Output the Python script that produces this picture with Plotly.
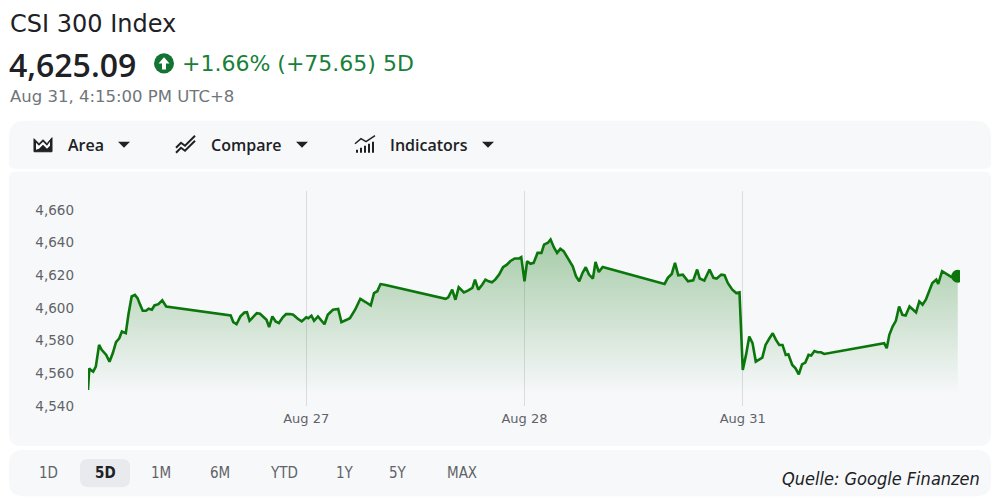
import plotly.graph_objects as go

# 5D intraday data, CSI 300 (minutes after the 9:30 open, index level)
days = ["Aug 26", "Aug 27", "Aug 28", "Aug 31"]

aug26_min = [0, 2, 4, 8, 12, 17, 21, 28, 33, 38, 43, 48, 52, 58, 62, 67, 72, 76, 80, 84,
             89, 93, 98, 102, 108, 114, 120, 217, 219, 223, 228, 234, 240, 244, 248, 253,
             259, 264, 269, 274, 278, 283, 288, 293, 299, 304, 310, 315, 322, 328]
aug26_val = [4549.7, 4563.0, 4562.0, 4561.0, 4564.0, 4577.3, 4574.3, 4571.2, 4567.0, 4572.2,
             4579.0, 4581.4, 4585.5, 4584.5, 4595.8, 4607.0, 4608.0, 4606.0, 4602.0, 4598.3,
             4598.3, 4599.5, 4598.9, 4601.5, 4602.3, 4604.6, 4600.9, 4595.4, 4595.4, 4591.3,
             4590.0, 4594.8, 4597.2, 4597.4, 4592.1, 4594.2, 4596.8, 4596.4, 4594.8, 4592.7,
             4588.2, 4594.8, 4591.7, 4590.7, 4594.2, 4596.2, 4596.2, 4595.8, 4593.3, 4591.7]

aug27_min = [0, 3, 8, 12, 18, 23, 28, 33, 41, 49, 54, 62, 67, 75, 83, 91, 99, 104, 109, 114,
             120, 214, 218, 224, 229, 234, 242, 248, 255, 259, 264, 270, 275, 280, 285, 290,
             296, 302, 308, 313, 320, 327, 330]
aug27_val = [4594.2, 4593.7, 4595.2, 4592.1, 4594.8, 4592.7, 4590.0, 4595.8, 4598.9, 4599.3,
             4591.3, 4592.7, 4593.7, 4598.9, 4605.6, 4603.6, 4601.5, 4609.1, 4610.2, 4614.6,
             4614.2, 4605.6, 4606.5, 4611.2, 4605.0, 4612.6, 4609.5, 4610.6, 4612.2, 4617.3,
             4611.2, 4614.2, 4617.3, 4616.3, 4615.7, 4617.3, 4620.4, 4624.9, 4626.5, 4628.6,
             4630.3, 4630.3, 4631.1]

aug28_min = [0, 4, 9, 14, 20, 26, 30, 36, 40, 45, 50, 55, 60, 66, 74, 79, 84, 89, 94, 99,
             105, 109, 114, 120, 215, 220, 226, 231, 236, 243, 251, 259, 265, 269, 276, 284,
             290, 295, 302, 307, 312, 319, 325, 330]
aug28_val = [4616.3, 4628.6, 4627.0, 4627.6, 4633.7, 4633.7, 4638.8, 4639.9, 4641.9, 4637.2,
             4633.7, 4636.2, 4634.8, 4630.7, 4625.5, 4619.4, 4616.3, 4621.4, 4624.9, 4620.4,
             4618.0, 4628.2, 4622.0, 4625.1, 4614.7, 4618.4, 4620.8, 4627.6, 4620.0, 4620.4,
             4616.3, 4616.9, 4623.5, 4618.0, 4616.7, 4623.5, 4618.4, 4618.0, 4620.4, 4620.0,
             4615.3, 4611.2, 4609.1, 4609.5]

aug31_min = [0, 5, 10, 15, 20, 30, 35, 41, 46, 51, 56, 61, 66, 70, 76, 81, 86, 91, 96, 101,
             105, 110, 115, 120, 125, 217, 221, 225, 230, 235, 240, 245, 250, 256, 261, 266,
             271, 276, 281, 286, 291, 297, 300, 306, 312, 320, 330]
aug31_val = [4562.0, 4571.2, 4582.5, 4578.4, 4567.1, 4569.5, 4577.3, 4581.4, 4584.5, 4580.4,
             4577.3, 4577.3, 4571.2, 4571.6, 4565.0, 4563.0, 4559.3, 4565.4, 4566.5, 4571.2,
             4570.8, 4573.6, 4572.8, 4572.8, 4571.8, 4578.4, 4575.3, 4583.5, 4588.6, 4592.1,
             4600.9, 4595.8, 4595.4, 4600.9, 4598.9, 4597.2, 4604.0, 4602.0, 4605.0, 4610.2,
             4615.3, 4617.3, 4614.7, 4622.5, 4620.8, 4619.0, 4619.4]

range_buttons = ["1D", "5D", "1M", "6M", "YTD", "1Y", "5Y", "MAX"]
toolbar_items = ["Area", "Compare", "Indicators"]

# one trading day on the axis (330 session minutes + a small gap)
DAY_SPAN = 335
session_min = [aug26_min, aug27_min, aug28_min, aug31_min]
session_val = [aug26_val, aug27_val, aug28_val, aug31_val]

xs, ys = [], []
for i, (mins, vals) in enumerate(zip(session_min, session_val)):
    xs += [i * DAY_SPAN + m for m in mins]
    ys += vals

# page offset of the figure (body margin) and the vertical squeeze of the snapshot
OX, OY = 8, 8
SY = 0.98
FW, FH = 984, 502

GREEN = "#0b760b"
GRAY = "#5f6368"
DARK = "#202124"
CARD = "#f7f8fa"
SANS = "DejaVu Sans, sans-serif"
NARROW = "Liberation Sans Narrow, DejaVu Sans Condensed, Roboto, sans-serif"


def fx(x):
    return (x - OX) / FW


def fy(y):
    return 1 - (y / SY - OY) / FH


def pt(x, y):
    return f"{fx(x):.5f},{fy(y):.5f}"


def rrect(x0, y0, x1, y1, tl, tr, br, bl):
    return (f"M{pt(x0 + tl, y0)} L{pt(x1 - tr, y0)} Q{pt(x1, y0)} {pt(x1, y0 + tr)} "
            f"L{pt(x1, y1 - br)} Q{pt(x1, y1)} {pt(x1 - br, y1)} L{pt(x0 + bl, y1)} "
            f"Q{pt(x0, y1)} {pt(x0, y1 - bl)} L{pt(x0, y0 + tl)} Q{pt(x0, y0)} {pt(x0 + tl, y0)} Z")


def poly(points):
    return "M" + " L".join(pt(x, y) for x, y in points) + " Z"


def line(points):
    return "M" + " L".join(pt(x, y) for x, y in points)


fig = go.Figure()

fig.add_trace(go.Scatter(
    x=xs, y=ys, mode="lines",
    line=dict(color=GREEN, width=2.6),
    fill="tozeroy",
    fillgradient=dict(type="vertical", start=4549, stop=4642,
                      colorscale=[[0, "rgba(11,118,11,0)"], [1, "rgba(11,118,11,0.34)"]]),
    hoverinfo="skip", showlegend=False))

fig.add_trace(go.Scatter(
    x=[xs[-1]], y=[ys[-1]], mode="markers",
    marker=dict(color=GREEN, size=13), showlegend=False, hoverinfo="skip"))

shapes = [
    dict(type="path", path=rrect(9, 120, 991, 168, 16, 16, 6, 6)),
    dict(type="path", path=rrect(9, 171, 991, 444, 6, 6, 12, 12)),
    dict(type="path", path=rrect(9, 448, 991, 494, 14, 14, 14, 14)),
    dict(type="path", path=rrect(80, 457, 130, 485, 8, 8, 8, 8), fillcolor="#e8eaed"),
]
for s in shapes:
    s.update(xref="paper", yref="paper", layer="below", line=dict(width=0))
    s.setdefault("fillcolor", CARD)

# up-arrow badge
shapes.append(dict(type="circle", xref="paper", yref="paper",
                   x0=fx(154), x1=fx(174), y0=fy(73), y1=fy(53),
                   fillcolor="#137333", line=dict(width=0)))
shapes.append(dict(type="path", xref="paper", yref="paper", fillcolor="white", line=dict(width=0),
                   path=poly([(164, 57), (169.5, 63), (166, 63), (166, 69), (162, 69), (162, 63), (158.5, 63)])))

# toolbar icons
shapes.append(dict(type="path", xref="paper", yref="paper", fillcolor=DARK, line=dict(color=DARK, width=1),
                   path=poly([(34, 151), (34, 138), (39, 143), (43, 139), (47, 143), (52, 137), (52, 151)])))
shapes.append(dict(type="path", xref="paper", yref="paper", fillcolor="white", line=dict(width=0),
                   path=poly([(36, 149), (36, 142), (39, 145), (43, 141), (47, 145), (50, 141), (50, 145),
                              (47, 148), (43, 144), (39, 148)])))
for dy in (0, 5):
    shapes.append(dict(type="path", xref="paper", yref="paper", line=dict(color=DARK, width=2),
                       path=line([(176, 147 + dy), (181, 142 + dy), (185, 145 + dy), (195, 135 + dy)])))
for i, hgt in enumerate([3, 5, 7, 9, 11]):
    bx = 356 + i * 4
    shapes.append(dict(type="rect", xref="paper", yref="paper", fillcolor=DARK, line=dict(width=0),
                       x0=fx(bx), x1=fx(bx + 2), y0=fy(152), y1=fy(152 - hgt)))
shapes.append(dict(type="path", xref="paper", yref="paper", line=dict(color=DARK, width=1.5),
                   path=line([(355, 143), (361, 138), (366, 141), (375, 135)])))
for cx in (124, 302, 488):
    shapes.append(dict(type="path", xref="paper", yref="paper", fillcolor=DARK, line=dict(width=0),
                       path=poly([(cx - 6, 141), (cx + 6, 141), (cx, 147)])))

ann = []


def text(x, y, s, size, color=DARK, anchor="left", weight="normal", family=SANS, style="normal",
         yanchor="middle"):
    ann.append(dict(x=fx(x), y=fy(y), xref="paper", yref="paper", text=s, showarrow=False,
                    xanchor=anchor, yanchor=yanchor,
                    font=dict(size=size, color=color, weight=weight, style=style, family=family)))


text(8, OY * SY, "CSI 300 Index", 24, yanchor="top")
text(7, 64, "4,625.09", 32, weight=600, family="Open Sans, sans-serif")
text(180, 63, "+1.66% (+75.65) 5D", 22, color="#188038")
text(8, 96, "Aug 31, 4:15:00 PM UTC+8", 16.5, color="#70757a")

for label, lx in zip(toolbar_items, [66, 209, 388]):
    text(lx, 144, label, 16, weight=600, family="Open Sans, sans-serif")

for label, cx in zip(range_buttons, [48, 105, 161, 220, 284, 345, 398, 462]):
    if label == "5D":
        text(cx, 471, label, 15, anchor="center", weight="bold", family=NARROW)
    else:
        text(cx, 471, label, 15, color=GRAY, anchor="center", family=NARROW)

text(982, 476, "Quelle: Google Finanzen", 18, anchor="right", style="italic", family=NARROW)

x_end = (960 - 88) / 0.6515
fig.update_layout(
    width=FW, height=FH,
    margin=dict(l=0, r=0, t=0, b=0),
    paper_bgcolor="white", plot_bgcolor="rgba(0,0,0,0)",
    font=dict(family=SANS, color=GRAY),
    shapes=shapes, annotations=ann,
    xaxis=dict(domain=[fx(88), fx(960)], range=[0, x_end],
               tickvals=[i * DAY_SPAN for i in range(1, len(days))], ticktext=days[1:],
               showgrid=True, gridcolor="#dadce0", gridwidth=1, zeroline=False, showline=False,
               ticks="", ticklabelstandoff=3, tickfont=dict(size=13, color=GRAY, family=SANS)),
    yaxis=dict(domain=[fy(404), fy(190)], range=[4540, 4540 + 214 / 1.625],
               dtick=20, tick0=4540, tickformat=",d", showgrid=False, zeroline=False,
               showline=False, ticks="", ticklabelstandoff=13,
               tickfont=dict(size=13.5, color=GRAY, family=SANS)),
)

fig.write_html("out.html")
